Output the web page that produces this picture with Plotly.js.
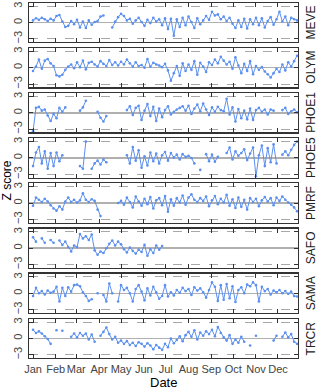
<!DOCTYPE html>
<html>
<head>
<meta charset="utf-8">
<script src="https://cdn.plot.ly/plotly-3.0.1.min.js"></script>
<style>
  html, body { margin: 0; padding: 0; background: #fff; }
  #chart { width: 320px; height: 391px; }
</style>
</head>
<body>
<div id="chart"></div>
<script>
// one value every 4 days, starting Jan 1 (null = no data)
const stations = ["MEVE", "OLYM", "PHOE1", "PHOE5", "PMRF", "SAFO", "SAMA", "TRCR"];
const monthDays = [1, 32, 60, 91, 121, 152, 182, 213, 244, 274, 305, 335];
const monthNames = ["Jan", "Feb", "Mar", "Apr", "May", "Jun", "Jul", "Aug", "Sep", "Oct", "Nov", "Dec"];
const stepDays = 4;

const meve = [
  0.4, 0.8, 0.5, 0.9, 0.6, 0.3, 0.7, 0.4,
  1.2, 1.4, 0.2, -0.8, -0.6, 0.3, -0.3,
  0.5, -0.9, 0.2, -1.0, 0.4, -0.4, 0.1, 0.3,
  1.1, 1.3, null, null, -0.9, 0.2, 1.0,
  1.6, 1.2, 0.4, 0.7, -0.2, 0.4, 0.9, 0.1,
  -0.6, 0.5, -0.1, 0.9, 0.2, 0.6, -0.5, 0.8,
  -1.2, 0.7, -2.4, 0.6, -0.8, 0.9, -0.5,
  1.1, 0.1, -1.0, 0.8, -0.3, 0.4, 1.2, 0.5,
  2.0, 1.3, 1.5, 0.6, 1.1, 0.3, 0.9, -0.2,
  -1.0, 0.4, -0.8, 0.7, -1.1, 0.6, -0.3, 0.9,
  -0.5, 0.8, -0.9, 0.3, 1.0, -0.4, 0.6,
  2.0, 0.2, 1.1, -0.5, 0.9, 0.6, 0.4
];
const olym = [
  -0.6, 0.2, 1.5, -0.2, 1.3, 1.6, 0.8, 0.3,
  -1.4, -1.6, -1.3, -0.4, 0.2, 0.6, -0.1,
  1.0, 0.1, 1.3, -0.3, 0.9, 1.1, 0.6, 0.2,
  1.2, 0.7, 0.3, 1.4, 0.5, 1.0, 0.4,
  1.1, 0.6, 1.5, 0.8, 0.2, 1.0, 0.3, 0.5,
  0.0, 1.6, 0.2, 0.9, 0.6, 0.4, 0.1, 0.7,
  -0.5, -2.4, -1.0, 0.3, -1.5, 0.8, -0.6,
  0.6, -0.4, 1.2, -1.3, 0.9, 0.2, -0.8, 1.0,
  0.5, 1.5, 0.8, 2.0, 1.3, 0.6, 1.1, -0.2,
  1.9, 0.4, -1.0, 0.7, -0.6, 1.2, -1.2, 0.3,
  -0.4, 0.1, -0.7, -1.2, -1.8, -1.0, -0.2,
  -0.8, 0.6, -0.5, 1.0, 0.2, 1.2, 2.2
];
const phoe1 = [
  -3.4, 0.9, 1.1, 0.4, 0.6, -0.5, -1.5, -0.2,
  -1.0, 0.9, 0.2, 1.0, null, null, null,
  null, 0.4, 1.0, 2.2, null, null, null, 0.2,
  -0.9, -1.6, -0.6, null, null, null, null,
  null, null, 0.5, 1.2, -0.4, 0.9, 1.3, -1.3,
  0.4, 1.6, -0.6, 1.1, -1.5, 0.8, -0.8, 0.5,
  1.2, -0.3, 0.2, 0.6, 0.9, 1.2, 0.4,
  1.3, -0.2, 0.8, 1.5, 0.3, 1.7, 0.6, -0.4,
  1.0, 0.2, 1.1, 0.5, 0.3, 2.6, -0.3, 1.0,
  -1.6, 0.7, -1.0, 0.4, -1.2, 0.8, -1.3, 0.5,
  0.9, 0.2, 0.6, -0.3, 0.6, 0.4, null,
  null, 0.5, 0.9, -0.2, 0.3, 0.6, 0.1
];
const phoe5 = [
  -1.5, 1.0, 2.0, -1.0, 1.2, -2.0, 0.9, -1.5,
  1.0, -0.6, 0.5, null, null, null, null,
  null, -1.5, -2.0, 3.0, null, -2.0, -1.0, -0.5,
  -1.2, -0.3, -0.8, null, null, null, null,
  null, null, 0.5, -1.0, 2.0, -0.5, 1.4, -1.8,
  0.3, -1.4, 1.0, -0.6, 0.8, -1.0, 0.5, 1.1,
  -0.5, 0.9, 0.1, 0.6, -0.3, 0.7, 0.2,
  0.4, 0.0, -1.0, null, -2.2, null, 0.7, -0.6,
  0.6, -0.7, 0.2, null, null, 0.9, 1.9, -0.3,
  1.2, 0.4, 0.9, 1.6, -0.4, 0.8, 1.9, -3.4,
  0.5, 2.3, -1.5, 1.8, -0.8, 2.5, -1.0,
  null, 0.6, 1.2, 0.5, 1.5, 2.4, 3.0
];
const pmrf = [
  -0.5, 1.0, 0.6, 0.2, 0.8, 0.3, -0.4, -1.0,
  -1.4, -0.6, -1.2, 0.3, 1.0, 0.2, 0.6,
  0.1, 0.5, 1.8, 0.6, 0.2, 0.7, 0.4, -1.2,
  -2.4, null, null, null, null, null, 0.0,
  0.4, -0.3, 1.0, 0.2, -0.8, 1.2, 0.3, -0.5,
  0.8, -0.2, 1.1, -1.0, 0.5, 0.9, -0.4, 1.3,
  -1.6, 0.7, -0.5, 0.9, 0.1, 1.4, -0.3,
  1.0, 1.6, 0.6, 0.2, 0.9, 0.4, 1.2, -0.6,
  0.5, 1.3, -0.2, 0.8, 0.1, 1.5, -0.5, 0.7,
  -0.9, 1.0, -0.7, 0.6, -1.2, 0.9, 0.2, 0.8,
  -0.6, 0.5, 1.1, 0.3, 0.9, -0.4, 1.0,
  0.4, 1.2, 0.6, 0.1, -0.3, -0.8, -1.5
];
const safo = [
  2.0, 1.2, null, 1.8, 1.0, null, 1.5, 1.0,
  null, 1.4, 0.6, 1.2, 0.2, -0.6, 0.5,
  0.2, 2.6, 1.8, 2.2, 1.5, 2.5, -0.4, -1.2,
  -0.6, -0.9, 0.0, 0.8, 1.4, 0.5, 1.2,
  0.7, -0.2, -0.8, 0.1, -0.5, -1.0, -0.3, -0.7,
  0.6, -1.4, -0.2, -0.9, 0.5, -0.3, 0.4
];
const sama = [
  -0.5, 1.0, 0.0, 0.4, -0.2, 0.5, 0.1, 0.3,
  1.2, -1.5, 1.0, -0.5, 1.1, 0.3, 1.5,
  1.6, 1.3, 0.2, -0.5, -1.4, -1.1, null, 0.0,
  null, -0.3, -1.5, 1.8, 0.0, null, -1.5,
  1.5, 0.6, 1.0, 0.0, -1.5, 0.8, 1.5, 0.3,
  -1.3, 0.9, -0.4, 1.2, 0.2, -1.0, -0.5, 1.5,
  -0.6, 0.2, -0.4, 0.6, 0.1, 1.0, 0.4,
  0.8, -0.3, 1.1, 0.5, 0.9, 0.2, -0.8, 0.6,
  2.0, 1.2, -1.4, 1.5, -1.2, 1.7, -0.9, 1.3,
  -1.6, 0.6, 1.1, 0.0, 1.6, 1.3, 2.0, 1.5,
  -1.5, 1.2, 0.4, 0.8, -0.2, 0.5, 0.2,
  0.6, 0.0, 0.4, -0.1, 0.3, -0.5, -0.6
];
const trcr = [
  1.6, 1.0, 1.3, 0.9, 0.4, -0.1, -1.0, null,
  1.5, null, 1.4, null, null, 0.3, 0.9,
  0.2, 1.0, 0.5, 0.9, -0.2, 0.7, -0.6, null,
  0.5, 1.2, 2.0, 0.8, -0.2, 0.3, -0.8,
  -0.4, -1.0, -0.5, -1.2, -0.8, -1.4, -0.7, -1.0,
  -1.5, -0.9, -1.3, -2.0, -1.2, -1.7, -2.1, -1.0,
  -1.6, 0.0, -0.9, -0.3, 0.4, -0.5, 0.6,
  1.2, 0.3, 1.5, -0.2, 1.1, 0.5, 1.3, 0.8,
  1.6, 0.4, 2.1, 1.0, 0.2, -0.4, 0.6, -1.0,
  -0.2, -0.8, 0.3, -0.6, null, -1.3, null, 0.5,
  null, null, null, null, null, -0.4, 0.5,
  null, 0.3, 1.1, 0.2, 0.8, -0.6, -1.0
];

const series = [meve, olym, phoe1, phoe5, pmrf, safo, sama, trcr];
const lineColor = "#5b8ff0";
const font = "Liberation Sans, Arial, sans-serif";

const n = stations.length;
const gap = 6 / 357;
const h = (1 - gap * (n - 1)) / n;

const traces = series.map((vals, k) => ({
  type: "scatter",
  mode: "lines+markers",
  x: vals.map((_, i) => 1 + i * stepDays),
  y: vals,
  xaxis: k === 0 ? "x" : "x" + (k + 1),
  yaxis: k === 0 ? "y" : "y" + (k + 1),
  line: { color: lineColor, width: 1 },
  marker: { color: lineColor, size: 2.6 },
  connectgaps: false,
  hoverinfo: "skip"
}));

const layout = {
  width: 320,
  height: 391,
  margin: { l: 29, r: 22, t: 3, b: 33 },
  paper_bgcolor: "#fff",
  plot_bgcolor: "#fff",
  showlegend: false,
  font: { family: font, size: 11, color: "#333" },
  annotations: []
};

stations.forEach((name, k) => {
  const top = 1 - k * (h + gap);
  const dom = [top - h, top];
  const xs = k === 0 ? "" : String(k + 1);
  const last = k === n - 1;
  layout["xaxis" + xs] = {
    anchor: "y" + xs,
    domain: [0, 1],
    range: [-4.5, 362.3],
    tickmode: "array",
    tickvals: monthDays,
    ticktext: monthNames,
    tickangle: 0,
    showticklabels: last,
    ticks: "inside",
    ticklen: 4,
    tickwidth: 1,
    tickcolor: "#333",
    showline: true,
    linecolor: "#333",
    linewidth: 1.3,
    mirror: "ticks",
    showgrid: false,
    zeroline: false,
    ticklabelstandoff: 0,
    tickfont: { size: 11, color: "#444" }
  };
  layout["yaxis" + xs] = {
    anchor: "x" + xs,
    domain: dom,
    range: [-3.6, 3.6],
    tickmode: "array",
    tickvals: [-3, 0, 3],
    ticktext: ["\u22123", "0", "3"],
    tickangle: -90,
    ticks: "inside",
    ticklen: 4,
    tickcolor: "#333",
    showline: true,
    linecolor: "#333",
    linewidth: 1.3,
    mirror: "ticks",
    showgrid: true,
    gridcolor: "#a8a8a8",
    griddash: "dash",
    gridwidth: 1,
    zeroline: true,
    zerolinecolor: "#b0b0b0",
    zerolinewidth: 1.5,
    tickfont: { size: 11, color: "#444" },
    ticklabelstandoff: 1
  };
  layout.annotations.push({
    text: name,
    xref: "paper",
    yref: "paper",
    x: 1,
    y: (dom[0] + dom[1]) / 2,
    xanchor: "left",
    yanchor: "middle",
    xshift: 4,
    textangle: -90,
    showarrow: false,
    font: { size: 12, color: "#222" }
  });
});

layout.annotations.push({
  text: "Z score",
  xref: "paper",
  yref: "paper",
  x: 0,
  y: 0.5,
  xanchor: "right",
  yanchor: "middle",
  xshift: -14,
  textangle: -90,
  showarrow: false,
  font: { size: 12, color: "#000" }
});

layout.annotations.push({
  text: "Date",
  xref: "paper",
  yref: "paper",
  x: 0.5,
  y: 0,
  xanchor: "center",
  yanchor: "bottom",
  yshift: -33,
  borderpad: 0,
  showarrow: false,
  font: { size: 13, color: "#000" }
});

Plotly.newPlot("chart", traces, layout, { displayModeBar: false, staticPlot: true });
</script>
</body>
</html>
